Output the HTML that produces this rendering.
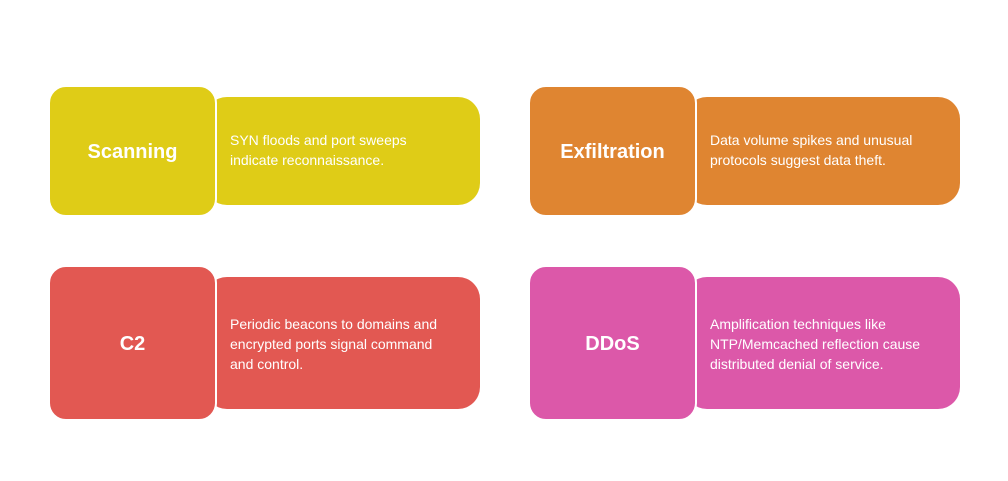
<!DOCTYPE html>
<html><head><style>
body{margin:0;width:1008px;height:481px;background:#fff;position:relative;overflow:hidden;font-family:"Liberation Sans",sans-serif;}
.r{position:absolute;border-radius:22px;}
.l{position:absolute;border-radius:18px;border:2px solid #fff;box-sizing:border-box;display:flex;align-items:center;justify-content:center;color:#fff;font-weight:bold;font-size:20px;padding-top:3px;}
.t{position:absolute;color:#fff;font-size:14px;line-height:20px;}
</style></head><body>
<div class="r" style="left:205px;top:97px;width:275px;height:108px;background:#DFCC17"></div>
<div class="l" style="left:48px;top:85px;width:169px;height:132px;background:#DFCC17">Scanning</div>
<div class="t" style="left:230px;top:130px;">SYN floods and port sweeps<br>indicate reconnaissance.</div>

<div class="r" style="left:685px;top:97px;width:275px;height:108px;background:#DF8531"></div>
<div class="l" style="left:528px;top:85px;width:169px;height:132px;background:#DF8531">Exfiltration</div>
<div class="t" style="left:710px;top:130px;">Data volume spikes and unusual<br>protocols suggest data theft.</div>

<div class="r" style="left:205px;top:277px;width:275px;height:132px;background:#E25852"></div>
<div class="l" style="left:48px;top:265px;width:169px;height:156px;background:#E25852">C2</div>
<div class="t" style="left:230px;top:314px;">Periodic beacons to domains and<br>encrypted ports signal command<br>and control.</div>

<div class="r" style="left:685px;top:277px;width:275px;height:132px;background:#DC58A9"></div>
<div class="l" style="left:528px;top:265px;width:169px;height:156px;background:#DC58A9">DDoS</div>
<div class="t" style="left:710px;top:314px;">Amplification techniques like<br>NTP/Memcached reflection cause<br>distributed denial of service.</div>
</body></html>
